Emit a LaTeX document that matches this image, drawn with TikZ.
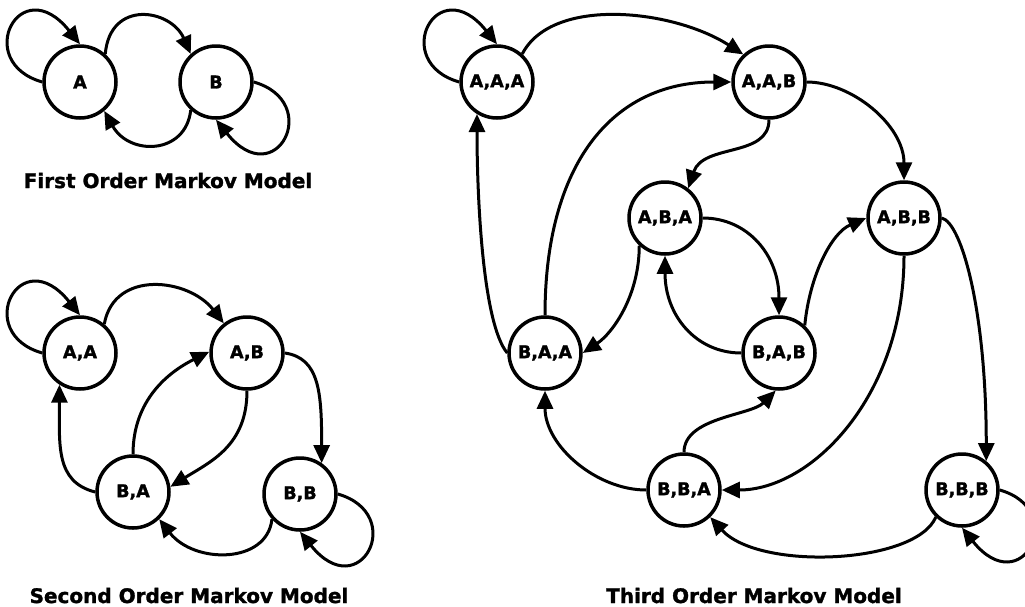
\documentclass[tikz,border=0pt]{standalone}
\usepackage{fontspec}
\setmainfont{DejaVu Sans}[BoldFeatures={FakeBold=1.5}]
\usetikzlibrary{arrows.meta}

\begin{document}
\begin{tikzpicture}[x=1pt,y=-1pt,
    state/.style={circle,draw,line width=3.5pt,minimum size=72pt,inner sep=0pt,
      font=\fontsize{17.5}{18}\selectfont\bfseries},
    trans/.style={line width=3pt,-{Triangle[length=18pt,width=16pt]}},
    title/.style={anchor=base,font=\fontsize{20}{24}\selectfont\bfseries}]
    \useasboundingbox (0,0) rectangle (1025,606);

    \node[state] (A) at (80,82) {A};
    \node[state] (B) at (216,82) {B};
    \draw[trans] (A.180) .. controls +(-70,-20) and +(-60,-75) .. (A.90);
    \draw[trans] (A.48) .. controls +(5,-55) and +(-20,-45) .. (B.132);
    \draw[trans] (B.228) .. controls +(-5,45) and +(25,45) .. (A.310);
    \draw[trans] (B.0) .. controls +(70,20) and +(60,75) .. (B.270);
    \node[title] (t1) at (168,188) {First Order Markov Model};

    \node[state] (AA) at (80,353) {A,A};
    \node[state] (AB) at (247,353) {A,B};
    \node[state] (BA) at (133,492) {B,A};
    \node[state] (BB) at (300,494) {B,B};
    \draw[trans] (AA.180) .. controls +(-70,-20) and +(-60,-75) .. (AA.90);
    \draw[trans] (AA.50) .. controls +(10,-55) and +(-35,-45) .. (AB.128);
    \draw[trans] (AB.0) .. controls +(35,5) and +(0,-70) .. (BB.55);
    \draw[trans] (AB.270) .. controls +(0,55) and +(40,-25) .. (BA.8);
    \draw[trans] (BA.90) .. controls +(0,-55) and +(-40,20) .. (AB.178);
    \draw[trans] (BA.180) .. controls +(-40,-10) and +(0,60) .. (AA.237);
    \draw[trans] (BB.222) .. controls +(-5,45) and +(35,45) .. (BA.314);
    \draw[trans] (BB.0) .. controls +(70,20) and +(60,75) .. (BB.270);
    \node[title] (t2) at (189,603) {Second Order Markov Model};

    \node[state] (AAA) at (497,82) {A,A,A};
    \node[state] (AAB) at (769,82) {A,A,B};
    \node[state] (ABA) at (665,218) {A,B,A};
    \node[state] (ABB) at (904,218) {A,B,B};
    \node[state] (BAA) at (545,353) {B,A,A};
    \node[state] (BAB) at (779,353) {B,A,B};
    \node[state] (BBA) at (684,490) {B,B,A};
    \node[state] (BBB) at (962,490) {B,B,B};
    \draw[trans] (AAA.180) .. controls +(-70,-20) and +(-60,-75) .. (AAA.90);
    \draw[trans] (AAA.48) .. controls +(30,-58) and +(-70,-45) .. (AAB.133);
    \draw[trans] (AAB.0) .. controls +(45,0) and +(0,-55) .. (ABB.90);
    \draw[trans] (AAB.270) .. controls +(0,38) and +(15,-45) .. (ABA.52);
    \draw[trans] (ABA.0) .. controls +(45,0) and +(0,-60) .. (BAB.90);
    \draw[trans] (BAB.180) .. controls +(-45,0) and +(0,60) .. (ABA.270);
    \draw[trans] (ABA.227) .. controls +(0,50) and +(30,-20) .. (BAA.0);
    \draw[trans] (BAA.90) .. controls +(0,-150) and +(-120,0) .. (AAB.180);
    \draw[trans] (BAA.180) .. controls +(-25,-30) and +(0,80) .. (AAA.238);
    \draw[trans] (BBA.180) .. controls +(-50,0) and +(0,55) .. (BAA.270);
    \draw[trans] (BBA.90) .. controls +(0,-35) and +(-25,25) .. (BAB.265);
    \draw[trans] (BAB.47) .. controls +(5,-50) and +(-35,15) .. (ABB.180);
    \draw[trans] (ABB.270) .. controls +(0,140) and +(90,0) .. (BBA.0);
    \draw[trans] (ABB.0) .. controls +(20,5) and +(0,-150) .. (BBB.50);
    \draw[trans] (BBB.226) .. controls +(-20,47) and +(49,54) .. (BBA.314);
    \draw[trans] (BBB.0) .. controls +(70,20) and +(60,75) .. (BBB.270);
    \node[title] (t3) at (754,603) {Third Order Markov Model};
\end{tikzpicture}
\end{document}
